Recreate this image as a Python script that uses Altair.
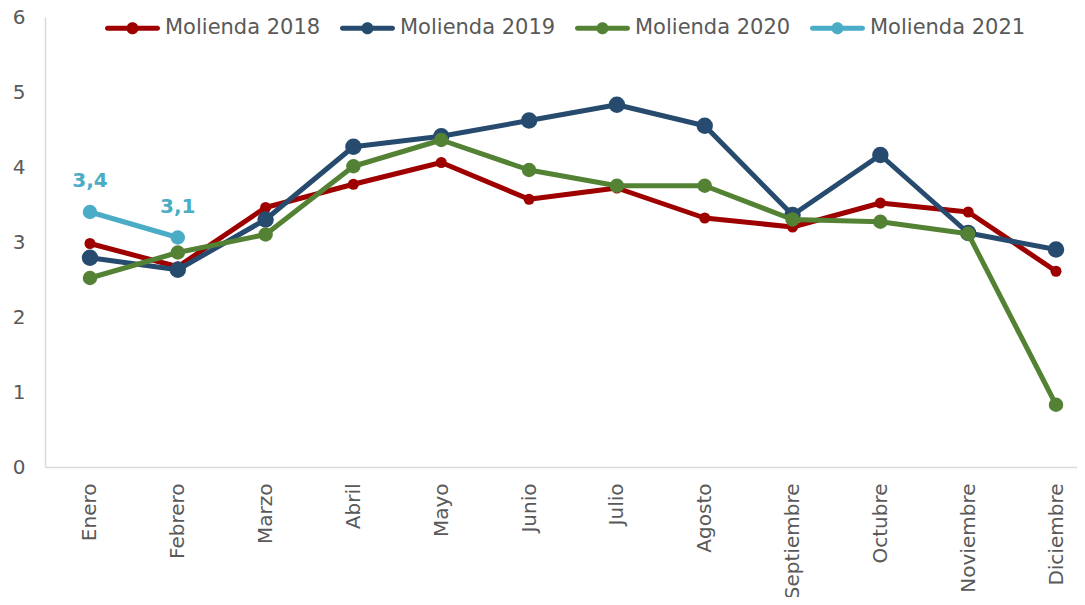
import altair as alt
import pandas as pd

months = ["Enero", "Febrero", "Marzo", "Abril", "Mayo", "Junio", "Julio",
          "Agosto", "Septiembre", "Octubre", "Noviembre", "Diciembre"]
series_names = ["Molienda 2018", "Molienda 2019", "Molienda 2020", "Molienda 2021"]
colors = ["#9E0000", "#264B6E", "#548235", "#4BACC6"]
marker_sizes = [121, 270, 210, 210]

m2018 = [2.98, 2.67, 3.46, 3.77, 4.06, 3.57, 3.72, 3.32, 3.20, 3.52, 3.40, 2.61]
m2019 = [2.79, 2.63, 3.30, 4.27, 4.41, 4.62, 4.83, 4.55, 3.36, 4.16, 3.12, 2.90]
m2020 = [2.52, 2.86, 3.10, 4.01, 4.36, 3.96, 3.75, 3.75, 3.30, 3.27, 3.11, 0.83]
m2021 = [3.40, 3.06]
labels2021 = ["3,4", "3,1"]

rows = []
for name, vals in zip(series_names, [m2018, m2019, m2020, m2021]):
    for i, v in enumerate(vals):
        rows.append({"serie": name, "idx": i, "mes": months[i], "valor": v})
df = pd.DataFrame(rows)

lab_df = pd.DataFrame({"idx": list(range(len(m2021))), "valor": m2021, "txt": labels2021})

FONT = "DejaVu Sans"
GREY = "#595959"

label_expr = "[" + ",".join("'" + m + "'" for m in months) + "][datum.value]"

x_enc = alt.X("idx:Q",
              scale=alt.Scale(domain=[-0.512, 11.239], nice=False, zero=False),
              axis=alt.Axis(values=list(range(12)), labelExpr=label_expr, title=None,
                            labelAngle=-90, labelAlign="right", labelBaseline="middle",
                            labelPadding=16, ticks=False, grid=False,
                            domainColor="#D9D9D9", domainWidth=1.5,
                            labelFont=FONT, labelFontSize=20, labelColor=GREY))
y_enc = alt.Y("valor:Q",
              scale=alt.Scale(domain=[0, 6], nice=False),
              axis=alt.Axis(values=[0, 1, 2, 3, 4, 5, 6], format="d", title=None,
                            ticks=False, grid=False,
                            labelPadding=20, domainColor="#D9D9D9", domainWidth=1.5,
                            labelFont=FONT, labelFontSize=20, labelColor=GREY))

legend_path = ("M-0.91,-0.09 L0.91,-0.09 A0.09,0.09 0 0 1 0.91,0.09 "
               "L-0.91,0.09 A0.09,0.09 0 0 1 -0.91,-0.09 Z "
               "M-0.22,0 A0.22,0.22 0 1 1 0.22,0 A0.22,0.22 0 1 1 -0.22,0 Z")

color_scale = alt.Scale(domain=series_names, range=colors)
color_leg = alt.Color("serie:N", scale=color_scale,
                      legend=alt.Legend(orient="none", legendX=60, legendY=-16.5,
                                        direction="horizontal", title=None,
                                        symbolType=legend_path, symbolSize=3025,
                                        symbolStrokeWidth=0, symbolOpacity=1,
                                        labelFont=FONT, labelFontSize=21, labelColor=GREY,
                                        labelOffset=5, columnPadding=18, labelLimit=300))

layers = []
for k, (name, msize) in enumerate(zip(series_names, marker_sizes)):
    sub = alt.Chart(df).transform_filter(alt.datum.serie == name)
    if k == 0:
        ln = sub.mark_line(strokeWidth=5, strokeCap="round", strokeJoin="round").encode(
            x=x_enc, y=y_enc, color=color_leg)
    else:
        ln = sub.mark_line(strokeWidth=5, strokeCap="round", strokeJoin="round").encode(
            x="idx:Q", y="valor:Q", color=alt.Color("serie:N", scale=color_scale))
    pt = sub.mark_circle(size=msize, opacity=1).encode(
        x="idx:Q", y="valor:Q", color=alt.Color("serie:N", scale=color_scale, legend=None))
    layers += [ln, pt]

texts = alt.Chart(lab_df).mark_text(font=FONT, fontSize=20, fontWeight="bold",
                                    color=colors[3], baseline="alphabetic", dy=-25).encode(
    x="idx:Q", y="valor:Q", text="txt:N")
layers.append(texts)

chart = alt.layer(*layers).properties(
    width=1032, height=450,
    autosize=alt.AutoSizeParams(type="none"),
    padding={"left": 37, "top": 9, "right": 0, "bottom": 130},
).configure_view(stroke=None)

chart.save("out.html", embed_options={"renderer": "svg", "actions": False})
